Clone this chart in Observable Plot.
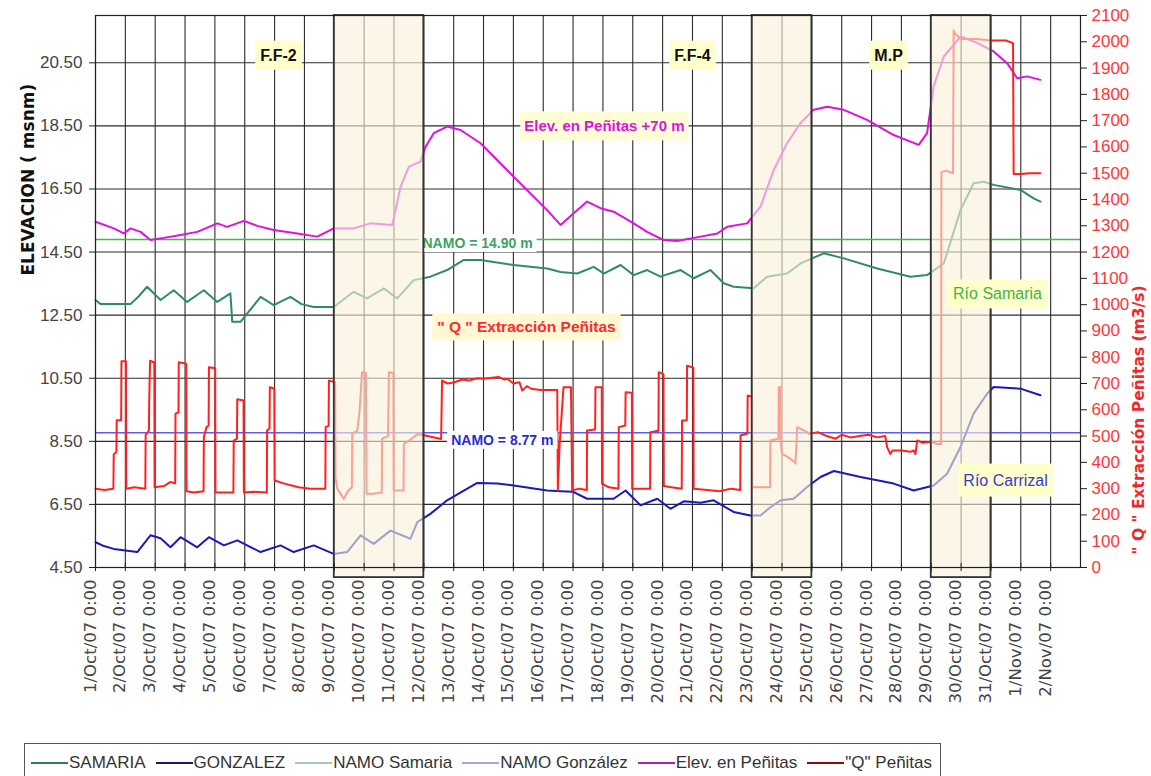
<!DOCTYPE html>
<html><head><meta charset="utf-8">
<script src="https://cdn.jsdelivr.net/npm/d3@7"></script>
<script src="https://cdn.jsdelivr.net/npm/@observablehq/plot@0.6"></script>
<style>
 body{margin:0;background:#fff;font-family:"Liberation Sans",Arial,sans-serif;}
 #wrap{position:relative;width:1151px;height:776px;overflow:hidden;background:#fff}
 #legend{position:absolute;left:24px;top:743px;width:917px;height:40px;border:1px solid #555;box-sizing:border-box;background:#fff;
   display:flex;align-items:center;gap:10px;padding-left:6px;font-size:17px;color:#333;white-space:nowrap}
 .li{display:flex;align-items:center}
 .sw{display:inline-block;width:37px;height:2px;margin-right:1px}
</style></head><body><div id="wrap"></div>
<script>
// ---------------- DATA ----------------
const dayTicks = d3.range(1, 34);               // 1/Oct ... 2/Nov (day-of-October numbering, 32 = 1/Nov)
const xTickLabels = dayTicks.map(d => d <= 31 ? `${d}/Oct/07 0:00` : `${d - 31}/Nov/07 0:00`);
const elevTicks = [4.5, 6.5, 8.5, 10.5, 12.5, 14.5, 16.5, 18.5, 20.5];
const qTicks = d3.range(0, 2101, 100);
const namoSamaria = 14.90;
const namoGonzalez = 8.77;
const shadedPeriods = [[9, 12], [23, 25], [29, 31]];

// [day, elevation msnm]
const samaria = [
[1.00,12.98],[1.17,12.85],[2.17,12.85],[2.45,13.1],[2.73,13.40],[3.18,12.98],[3.62,13.29],[4.07,12.92],[4.63,13.29],[5.08,12.92],[5.52,13.19],[5.56,12.6],[5.58,12.29],[5.86,12.29],[6.08,12.55],[6.53,13.08],[6.97,12.82],[7.53,13.08],[7.9,12.85],[8.31,12.76],[8.98,12.76],[9.65,13.24],[10.10,13.03],[10.66,13.35],[11.11,13.03],[11.66,13.61],[12.22,13.72],[12.78,13.93],[13.34,14.25],[13.90,14.25],[15.01,14.09],[16.13,13.98],[16.58,13.87],[17.14,13.82],[17.69,14.03],[18.03,13.82],[18.59,14.09],[19.03,13.77],[19.48,13.93],[19.93,13.72],[20.60,13.93],[21.04,13.67],[21.60,13.93],[22.05,13.51],[22.38,13.40],[23.05,13.35],[23.50,13.72],[24.17,13.82],[24.62,14.14],[25.40,14.46],[26.07,14.30],[27.19,13.98],[28.30,13.72],[28.86,13.77],[29.42,14.14],[29.98,15.83],[30.42,16.68],[30.76,16.73],[31.09,16.63],[31.99,16.47],[32.43,16.20],[32.66,16.10]
];
const gonzalez = [
[1.00,5.30],[1.23,5.20],[1.61,5.09],[2.40,4.99],[2.84,5.52],[3.18,5.43],[3.51,5.14],[3.85,5.46],[4.41,5.14],[4.80,5.46],[5.30,5.20],[5.75,5.36],[6.53,4.99],[7.20,5.20],[7.64,4.99],[8.31,5.20],[8.98,4.93],[9.43,4.99],[9.88,5.52],[10.32,5.25],[10.88,5.67],[11.55,5.41],[11.78,5.94],[12.22,6.20],[12.78,6.63],[13.34,6.94],[13.79,7.18],[14.46,7.16],[15.01,7.10],[16.13,6.94],[16.58,6.92],[17.0,6.90],[17.47,6.68],[18.36,6.68],[18.76,6.94],[19.26,6.47],[19.82,6.68],[20.26,6.36],[20.71,6.60],[21.27,6.55],[21.71,6.63],[22.38,6.26],[22.94,6.15],[23.28,6.15],[23.61,6.41],[23.95,6.63],[24.39,6.68],[24.84,7.05],[25.29,7.37],[25.74,7.56],[26.63,7.37],[27.74,7.16],[28.41,6.94],[29.08,7.10],[29.53,7.47],[29.98,8.32],[30.42,9.38],[30.87,10.01],[31.09,10.22],[31.99,10.17],[32.66,9.96]
];
const elevPenitas = [
[1.00,15.46],[1.61,15.25],[1.95,15.09],[2.17,15.25],[2.51,15.14],[2.84,14.88],[3.29,14.95],[3.85,15.04],[4.41,15.14],[5.08,15.41],[5.41,15.30],[5.97,15.49],[6.42,15.33],[6.97,15.20],[7.76,15.09],[8.43,14.99],[8.98,15.25],[9.65,15.25],[10.21,15.41],[10.94,15.36],[11.05,15.83],[11.22,16.57],[11.50,17.21],[11.89,17.37],[12.06,17.84],[12.33,18.27],[12.78,18.48],[13.23,18.37],[13.90,17.95],[15.01,16.89],[16.13,15.83],[16.58,15.36],[17.02,15.73],[17.47,16.10],[17.92,15.89],[18.36,15.78],[19.03,15.41],[19.48,15.14],[20.04,14.88],[20.49,14.85],[21.27,14.99],[21.83,15.09],[22.16,15.30],[22.83,15.41],[23.28,15.94],[23.72,17.10],[24.17,17.95],[24.62,18.59],[25.06,19.01],[25.51,19.11],[26.07,19.01],[26.85,18.69],[27.74,18.21],[28.58,17.90],[28.86,18.27],[29.08,19.75],[29.42,20.70],[29.75,21.07],[29.98,21.34],[30.54,21.13],[31.09,20.86],[31.54,20.49],[31.88,20.01],[32.21,20.07],[32.66,19.96]
];
// [day, Q m3/s]
const qPenitas = [
[1.00,300],[1.30,295],[1.60,300],[1.61,430],[1.70,440],[1.71,560],[1.86,560],[1.87,785],[2.02,785],[2.03,300],
[2.30,305],[2.67,300],[2.68,505],[2.79,521],[2.80,640],[2.83,787],[2.97,780],[2.98,305],
[3.30,310],[3.50,325],[3.67,320],[3.68,585],[3.78,590],[3.79,781],[4.04,775],[4.05,290],
[4.30,285],[4.62,290],[4.63,496],[4.72,534],[4.79,540],[4.80,762],[5.01,758],[5.02,285],
[5.30,285],[5.62,285],[5.63,483],[5.74,490],[5.75,640],[5.96,635],[5.97,285],
[6.30,288],[6.74,285],[6.75,521],[6.83,530],[6.84,686],[6.99,680],[7.00,331],
[7.30,320],[7.80,305],[8.20,300],[8.70,300],[8.71,534],[8.81,540],[8.82,711],[9.03,705],[9.04,343],[9.10,300],[9.32,261],[9.45,290],[9.59,305],
[9.60,509],[9.77,520],[9.85,600],[9.93,743],[10.06,740],[10.08,281],[10.30,281],[10.59,285],
[10.60,490],[10.80,500],[10.83,743],[10.98,740],[10.99,293],[11.32,293],
[11.33,470],[11.50,483],[11.80,508],[12.20,498],[12.58,489],
[12.61,711],[12.80,700],[13.00,704],[13.30,715],[13.50,711],[13.80,720],[14.00,718],[14.30,722],[14.50,725],[14.70,715],[14.80,718],[15.00,700],[15.20,705],[15.30,673],[15.45,690],[15.60,680],[15.90,675],[16.20,675],[16.47,675],
[16.49,293],[16.55,470],[16.68,686],[16.93,686],[16.97,293],
[17.20,300],[17.46,295],[17.47,521],[17.74,525],[17.75,686],[17.96,686],[17.97,319],[18.20,305],[18.52,300],
[18.53,534],[18.75,540],[18.76,667],[18.97,665],[18.98,300],[19.30,300],[19.58,300],
[19.59,515],[19.86,520],[19.87,743],[20.03,735],[20.04,310],[20.30,305],[20.64,300],
[20.65,559],[20.81,560],[20.82,768],[21.03,760],[21.04,300],[21.50,295],[21.90,290],[22.30,300],[22.60,295],
[22.61,502],[22.84,510],[22.85,654],[22.99,650],[23.00,305],[23.30,305],[23.60,305],
[23.61,483],[23.88,490],[23.89,686],[23.94,686],[23.95,483],[24.00,432],[24.20,420],[24.44,400],[24.45,395],[24.51,534],[24.84,515],[24.90,508],
[25.20,515],[25.50,500],[25.80,490],[26.00,505],[26.30,495],[26.60,500],[26.90,505],[27.20,495],[27.46,500],
[27.52,458],[27.63,432],[27.70,445],[28.00,445],[28.30,440],[28.41,445],[28.47,432],[28.53,483],[28.70,475],[29.00,478],[29.20,470],[29.33,470],
[29.34,1504],[29.50,1510],[29.73,1500],[29.75,2043],[29.80,2030],[30.00,2011],[30.50,2011],[31.00,2005],[31.50,2005],[31.74,1995],[31.76,1497],[32.00,1497],[32.30,1500],[32.66,1500]
];

const annotTexts = ["F.F-2", "F.F-4", "M.P", "Elev. en Peñitas +70 m", "\" Q \" Extracción Peñitas", "NAMO = 8.77 m", "Río Samaria", "Río Carrizal"];
const annotDays  = [7.13, 21.0, 27.57, 18.05, 15.44, 14.63, 31.22, 31.49];
const annotVals  = [20.73, 20.73, 20.73, 18.48, 12.11, 8.53, 13.16, 7.26];
const namoSamariaLabel = "NAMO = 14.90 m";
const namoSamariaLabelPos = [13.80, 14.77];

const legendLabels = ["SAMARIA", "GONZALEZ", "NAMO Samaria", "NAMO González", "Elev. en Peñitas", "\"Q\" Peñitas"];
const legendColors = ["#2d7a62", "#1a1a66", "#a9c9b0", "#a8a8d8", "#b020b0", "#8a0c0c"];
const leftTitle = "ELEVACION ( msnm)";
const rightTitle = "\" Q \" Extracción Peñitas (m3/s)";

// ---------------- CHART ----------------
const t0 = Date.UTC(2007, 9, 1);
const X = d => new Date(t0 + (d - 1) * 864e5);
const qY = q => 4.5 + q * 17.5 / 2100;

const annotStyles = [
  {fill: "#111", size: 16, weight: "bold", bg: "#ffffcc", px: 5, py: 6},
  {fill: "#111", size: 16, weight: "bold", bg: "#ffffcc", px: 5, py: 6},
  {fill: "#111", size: 16, weight: "bold", bg: "#ffffcc", px: 5, py: 6},
  {fill: "#e010e0", size: 15, weight: "bold", bg: "#ffffd6", px: 4, py: 6},
  {fill: "#ff2a2a", size: 15.5, weight: "bold", bg: "#fff8d2", px: 5, py: 5},
  {fill: "#2a2ad0", size: 14, weight: "bold", bg: "#ffffff", px: 4, py: 1},
  {fill: "#44b444", size: 16, weight: "normal", bg: "#ffffcc", px: 6, py: 6},
  {fill: "#3a3ad0", size: 16, weight: "normal", bg: "#ffffcc", px: 5, py: 8}
];

const annotMark = (text, day, val, s, id) => Plot.text([text], {
  x: () => X(day), y: () => val, text: d => d,
  fill: s.fill, fontSize: s.size, fontWeight: s.weight, ariaDescription: id
});

const chart = Plot.plot({
  width: 1151, height: 736,
  marginLeft: 95, marginRight: 71, marginTop: 15, marginBottom: 169,
  style: {fontFamily: "'Liberation Sans', Arial, sans-serif", fontSize: "17px", background: "#fff", overflow: "visible"},
  x: {type: "utc", domain: [X(1), X(34)], axis: null},
  y: {domain: [4.5, 22.0]},
  marks: [
    Plot.ruleX(dayTicks, {x: d => X(d), stroke: "#2b2b2b", strokeWidth: 1.1}),
    Plot.ruleY(elevTicks, {y: d => d, stroke: "#2b2b2b", strokeWidth: 1.1}),
    Plot.ruleY([namoSamaria], {y: d => d, stroke: "#3cbf3c", strokeWidth: 1.6}),
    Plot.ruleY([namoGonzalez], {y: d => d, stroke: "#5c5cf0", strokeWidth: 1.6}),
    annotMark(namoSamariaLabel, namoSamariaLabelPos[0], namoSamariaLabelPos[1],
      {fill: "#3fa35f", size: 14, weight: "bold"}, "annotN"),
    Plot.line(samaria, {x: d => X(d[0]), y: d => d[1], stroke: "#2e8b6b", strokeWidth: 2}),
    Plot.line(gonzalez, {x: d => X(d[0]), y: d => d[1], stroke: "#1a1ab8", strokeWidth: 2}),
    Plot.line(elevPenitas, {x: d => X(d[0]), y: d => d[1], stroke: "#e010e0", strokeWidth: 2}),
    Plot.line(qPenitas, {x: d => X(d[0]), y: d => qY(d[1]), stroke: "#ff2020", strokeWidth: 2}),
    Plot.rect(shadedPeriods, {x1: d => X(d[0]), x2: d => X(d[1]), y1: 4.18, y2: 22.0,
      fill: "#f9f1da", fillOpacity: 0.62, stroke: "#333", strokeWidth: 1.8}),
    Plot.frame({stroke: "#222", strokeWidth: 1.2}),
    Plot.ruleX(dayTicks, {x: d => X(d), y1: 4.37, y2: 4.63, stroke: "#222"}),
    Plot.text(dayTicks, {x: d => X(d), text: (d, i) => xTickLabels[i], frameAnchor: "bottom",
      rotate: -90, textAnchor: "end", dy: 12, fontFamily: "DejaVu Sans", fontSize: 16.5, fill: "#444"}),
    Plot.axisY(elevTicks, {anchor: "left", tickSize: 6, tickPadding: 7, tickFormat: d => d.toFixed(2),
      fontSize: 17, fill: "#444", stroke: "#222", label: null}),
    Plot.axisY(qTicks.map(qY), {anchor: "right", tickSize: 6, tickPadding: 5,
      tickFormat: v => String(Math.round((v - 4.5) * 2100 / 17.5)),
      fontSize: 17, fill: "#ff3636", stroke: "#222", label: null}),
    Plot.text([leftTitle], {frameAnchor: "left", rotate: -90, dx: -67, dy: -16,
      fontFamily: "DejaVu Sans", fontWeight: "bold", fontSize: 17, fill: "#111"}),
    Plot.text([rightTitle], {frameAnchor: "right", rotate: -90, dx: 59, dy: -6,
      fontFamily: "DejaVu Sans", fontWeight: "bold", fontSize: 15.5, fill: "#f02828"}),
    ...annotTexts.map((t, i) => annotMark(t, annotDays[i], annotVals[i], annotStyles[i], "annot" + i))
  ]
});

const wrap = document.getElementById("wrap");
wrap.append(chart);

// text background boxes
const NS = "http://www.w3.org/2000/svg";
function boxify(id, bg, px, py) {
  const g = chart.querySelector(`g[aria-description="${id}"]`);
  if (!g) return;
  g.querySelectorAll("text").forEach(t => {
    const b = t.getBBox();
    const r = document.createElementNS(NS, "rect");
    r.setAttribute("x", b.x - px); r.setAttribute("y", b.y - py);
    r.setAttribute("width", b.width + 2 * px); r.setAttribute("height", b.height + 2 * py);
    r.setAttribute("fill", bg); r.setAttribute("stroke", "none");
    if (t.getAttribute("transform")) r.setAttribute("transform", t.getAttribute("transform"));
    g.insertBefore(r, t);
  });
}
boxify("annotN", "#ffffff", 4, 1);
annotStyles.forEach((s, i) => boxify("annot" + i, s.bg, s.px, s.py));

// legend
const lg = document.createElement("div");
lg.id = "legend";
legendLabels.forEach((l, i) => {
  const it = document.createElement("div"); it.className = "li";
  const sw = document.createElement("span"); sw.className = "sw"; sw.style.background = legendColors[i];
  const tx = document.createElement("span"); tx.textContent = l;
  it.append(sw, tx); lg.append(it);
});
wrap.append(lg);
</script></body></html>
